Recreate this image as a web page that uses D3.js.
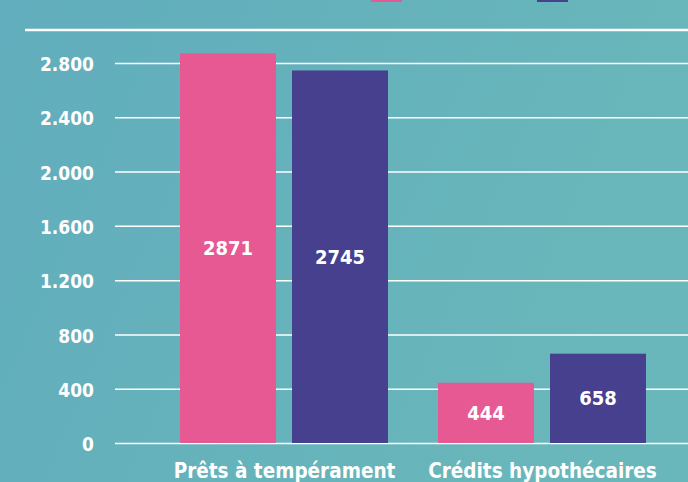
<!DOCTYPE html>
<html>
<head>
<meta charset="utf-8">
<script src="https://cdn.jsdelivr.net/npm/d3@7"></script>
<style>
	html, body { margin: 0; padding: 0; }
	svg { display: block; }
	text { font-family: "DejaVu Sans Condensed", "DejaVu Sans", sans-serif; font-weight: bold; fill: #fff; }
</style>
</head>
<body>
<svg id="chart" width="688" height="482"></svg>
<script>
const categories = ["Prêts à tempérament", "Crédits hypothécaires"]
const series = ["a", "b"]
const valuesA = [2871, 444]
const valuesB = [2745, 658]
const yTicks = [0, 400, 800, 1200, 1600, 2000, 2400, 2800]
const colors = ["#e75992", "#46408e"]

const svg = d3.select("#chart")
const W = 688, H = 482

var grad = svg.append("defs").append("linearGradient")
	.attr("id", "bg").attr("x1", 0).attr("y1", 0).attr("x2", 1).attr("y2", 0.3)
grad.append("stop").attr("offset", 0).attr("stop-color", "#61adbd")
grad.append("stop").attr("offset", 1).attr("stop-color", "#69b7ba")
svg.append("rect").attr("width", W).attr("height", H).attr("fill", "url(#bg)")

const locale = d3.formatLocale({ decimal: ",", thousands: ".", grouping: [3], currency: ["", " €"] })
const fmt = locale.format(",d")

const y = d3.scaleLinear().domain([0, 2800]).range([443, 63])
const x0 = d3.scaleBand().domain(categories).range([155.5, 671.5])
const x1 = d3.scaleBand().domain(series).range([24.5, 232.5]).paddingInner(1 / 7)

// legend swatches, mostly cut off by the top edge
svg.selectAll("rect.legend")
	.data(series)
	.join("rect")
		.classed("legend", true)
		.attr("x", (d, i) => [371, 537][i])
		.attr("y", -20)
		.attr("width", 31)
		.attr("height", 22)
		.attr("fill", (d, i) => colors[i])

// top rule
svg.append("line")
	.attr("x1", 25).attr("x2", W).attr("y1", 30).attr("y2", 30)
	.attr("stroke", "#fff").attr("stroke-width", 2.5)

const yAxis = svg.append("g")
	.attr("transform", "translate(115,0)")
	.call(d3.axisLeft(y).tickValues(yTicks).tickFormat(fmt).tickSize(-(W - 115)).tickPadding(21))
yAxis.select(".domain").remove()
yAxis.selectAll(".tick line").attr("stroke", "#fff").attr("stroke-width", 1.5)
yAxis.selectAll(".tick text").attr("font-size", 19).attr("fill", "#fff").attr("dy", "0.4em")
	.style("font-family", null)

const rows = categories.map((c, i) => ({ cat: c, vals: [valuesA[i], valuesB[i]] }))

const groups = svg.selectAll("g.group")
	.data(rows)
	.join("g")
		.classed("group", true)
		.attr("transform", d => `translate(${x0(d.cat)},0)`)

groups.selectAll("rect")
	.data(d => d.vals.map((v, i) => ({ key: series[i], v, i })))
	.join("rect")
		.attr("x", d => x1(d.key))
		.attr("y", d => y(d.v))
		.attr("width", x1.bandwidth())
		.attr("height", d => y(0) - y(d.v))
		.attr("fill", d => colors[d.i])

groups.selectAll("text.val")
	.data(d => d.vals.map((v, i) => ({ key: series[i], v, i })))
	.join("text")
		.classed("val", true)
		.attr("x", d => x1(d.key) + x1.bandwidth() / 2)
		.attr("y", d => (y(d.v) + y(0)) / 2)
		.attr("dy", "0.35em")
		.attr("text-anchor", "middle")
		.attr("font-size", 20)
		.text(d => d.v)

const xAxis = svg.append("g")
	.attr("transform", "translate(0,443)")
	.call(d3.axisBottom(x0).tickSize(0).tickPadding(20))
xAxis.select(".domain").remove()
xAxis.selectAll(".tick text").attr("font-size", 20.5).attr("fill", "#fff")
	.style("font-family", null)
</script>
</body>
</html>
